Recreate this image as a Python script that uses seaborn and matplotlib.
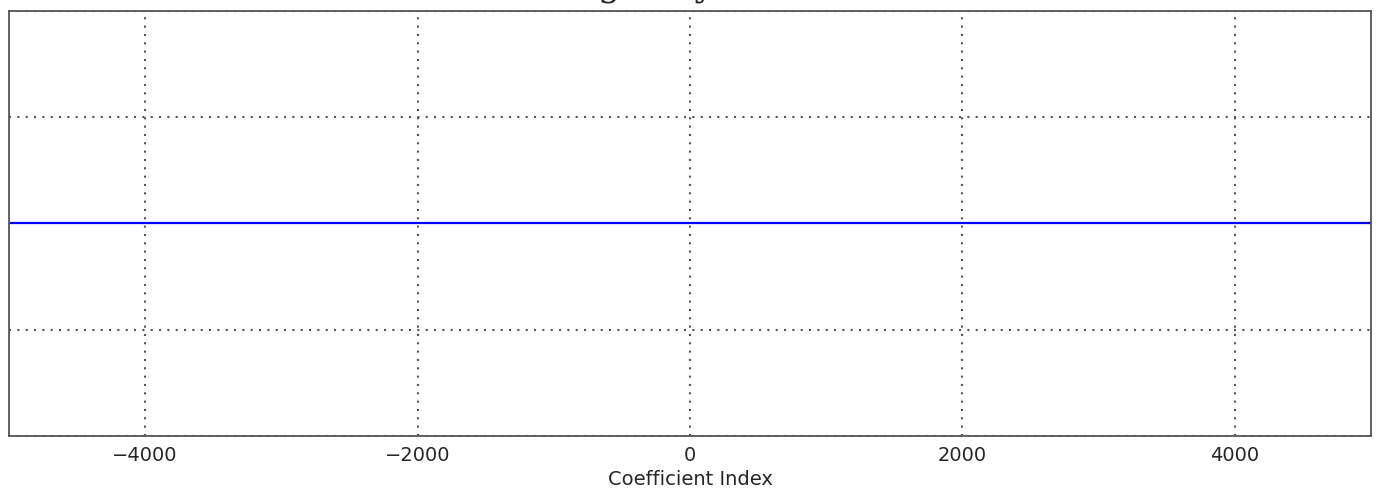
import matplotlib
matplotlib.use("Agg")
import matplotlib.pyplot as plt
import seaborn as sns
import pandas as pd

# Imaginary part of the filter coefficients (flat at zero)
coefficient_index = [-5000, -4000, -2000, 0, 2000, 4000, 5000]
imag_part = [0.0, 0.0, 0.0, 0.0, 0.0, 0.0, 0.0]
x_ticks = [-4000, -2000, 0, 2000, 4000]
y_ticks = [-0.04, -0.02, 0.0, 0.02, 0.04]

df = pd.DataFrame({"Coefficient Index": coefficient_index, "Imag": imag_part})

sns.set_style("white")
plt.rcParams["font.family"] = ["DejaVu Sans"]

fig = plt.figure(figsize=(13.79, 4.96), dpi=100)
ax = fig.add_axes([0.0065, 0.121, 0.9877, 0.857])

sns.lineplot(data=df, x="Coefficient Index", y="Imag", ax=ax, color="blue", linewidth=1.6)

ax.set_xlim(-5000, 5000)
ax.set_ylim(-0.04, 0.04)
ax.set_xticks(x_ticks)
ax.set_yticks(y_ticks)
ax.set_yticklabels([])
ax.set_ylabel("")
ax.set_xlabel("Coefficient Index", fontsize=14, labelpad=4)
ax.tick_params(axis="x", labelsize=14, direction="in", length=5, color="#555555", pad=7)
ax.tick_params(axis="y", direction="in", length=5, color="#555555")
ax.grid(True, linestyle=(0, (1, 3)), color="#555555", linewidth=1.5)
for s in ax.spines.values():
    s.set_color("#555555")
    s.set_linewidth(1.3)

# title sits above the visible canvas, only its descenders show (as in the source image)
fig.text(0.482, 1.009, "Imaginary Part", ha="center", va="baseline",
         fontsize=26, family="DejaVu Serif")

fig.savefig("out.png", dpi=100)
